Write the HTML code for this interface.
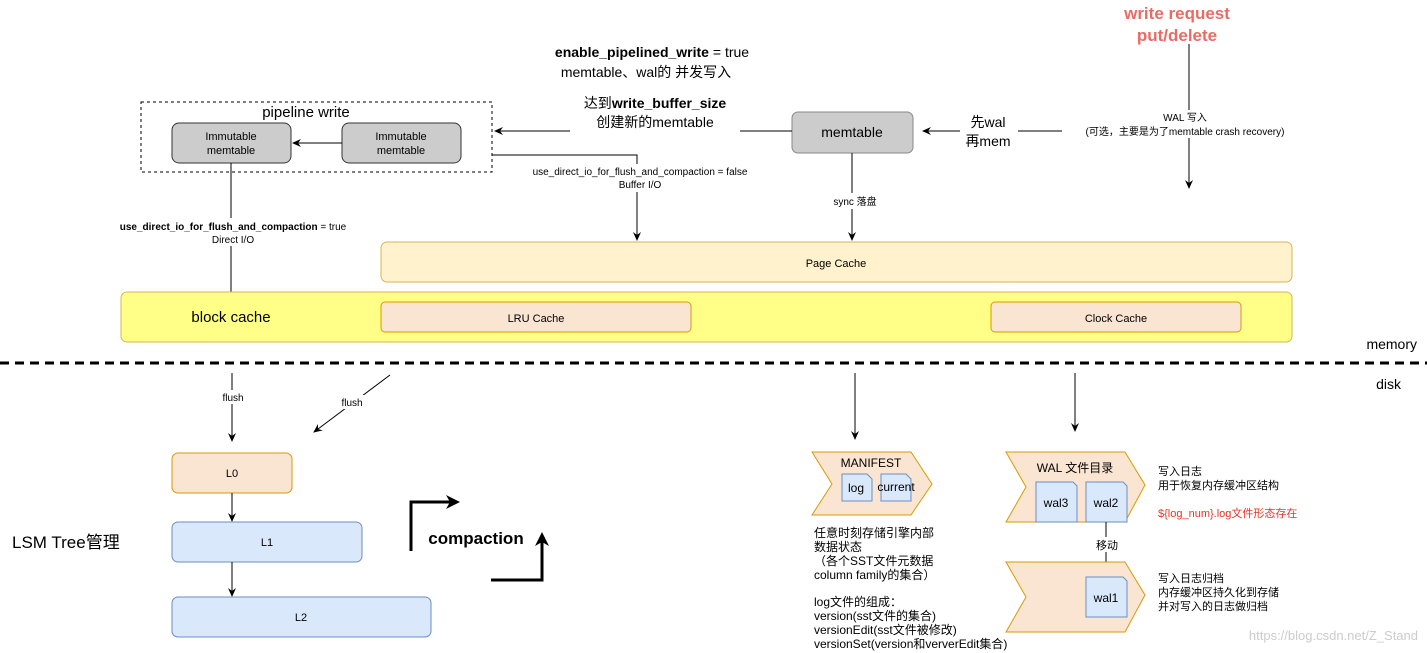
<!DOCTYPE html><html><head><meta charset="utf-8"><style>body{margin:0;background:#fff}svg{display:block}text{font-family:"Liberation Sans","Noto Sans CJK SC",sans-serif}</style></head><body>
<svg width="1427" height="653" viewBox="0 0 1427 653" xmlns="http://www.w3.org/2000/svg">
<defs><marker id="a" markerWidth="10" markerHeight="10" refX="8" refY="5" orient="auto" markerUnits="userSpaceOnUse"><path d="M0,1 L9,5 L0,9 L3,5z" fill="#000"/></marker>
<marker id="b" markerWidth="16" markerHeight="16" refX="10" refY="8" orient="auto" markerUnits="userSpaceOnUse"><path d="M0,1 L14,8 L0,15 L4,8z" fill="#000"/></marker></defs>
<g font-size="11" fill="#000">
<text x="1177" y="19" text-anchor="middle" font-size="17" font-weight="bold" fill="#ea6b66">write request</text>
<text x="1177" y="41" text-anchor="middle" font-size="17" font-weight="bold" fill="#ea6b66">put/delete</text>
<line x1="1189" y1="44" x2="1189" y2="188" stroke="#000" marker-end="url(#a)"/>
<rect x="1100" y="110" width="180" height="28" fill="#fff"/>
<text x="1185" y="121" text-anchor="middle" font-size="10">WAL 写入</text>
<text x="1185" y="135" text-anchor="middle" font-size="10">(可选，主要是为了memtable crash recovery)</text>
<line x1="1062" y1="131" x2="923" y2="131" stroke="#000" marker-end="url(#a)"/>
<rect x="960" y="112" width="58" height="38" fill="#fff"/>
<text x="988" y="127" text-anchor="middle" font-size="14">先wal</text>
<text x="988" y="146" text-anchor="middle" font-size="14">再mem</text>
<rect x="792" y="112" width="121" height="41" rx="6" fill="#ccc" stroke="#888"/>
<text x="852" y="137" text-anchor="middle" font-size="14">memtable</text>
<text x="652" y="57" text-anchor="middle" font-size="14"><tspan font-weight="bold">enable_pipelined_write</tspan> = true</text>
<text x="646" y="77" text-anchor="middle" font-size="14">memtable、wal的 并发写入</text>
<line x1="792" y1="131" x2="495" y2="131" stroke="#000" marker-end="url(#a)"/>
<rect x="570" y="94" width="170" height="38" fill="#fff"/>
<text x="655" y="108" text-anchor="middle" font-size="14">达到<tspan font-weight="bold">write_buffer_size</tspan></text>
<text x="655" y="127" text-anchor="middle" font-size="14">创建新的memtable</text>
<rect x="141" y="102" width="351" height="70" fill="none" stroke="#000" stroke-dasharray="3,3"/>
<text x="306" y="117" text-anchor="middle" font-size="15">pipeline write</text>
<rect x="172" y="123" width="119" height="40" rx="7" fill="#ccc" stroke="#333"/>
<text x="231" y="140" text-anchor="middle">Immutable</text><text x="231" y="154" text-anchor="middle">memtable</text>
<rect x="342" y="123" width="119" height="40" rx="7" fill="#ccc" stroke="#333"/>
<text x="401" y="140" text-anchor="middle">Immutable</text><text x="401" y="154" text-anchor="middle">memtable</text>
<line x1="342" y1="143" x2="293" y2="143" stroke="#000" marker-end="url(#a)"/>
<line x1="231" y1="163" x2="231" y2="292" stroke="#000"/>
<rect x="105" y="218" width="255" height="28" fill="#fff"/>
<text x="233" y="230" text-anchor="middle" font-size="10"><tspan font-weight="bold">use_direct_io_for_flush_and_compaction</tspan> = true</text>
<text x="233" y="243" text-anchor="middle" font-size="10">Direct I/O</text>
<polyline points="492,155 637,155 637,240" fill="none" stroke="#000" marker-end="url(#a)"/>
<rect x="520" y="164" width="240" height="28" fill="#fff"/>
<text x="640" y="175" text-anchor="middle" font-size="10">use_direct_io_for_flush_and_compaction = false</text>
<text x="640" y="188" text-anchor="middle" font-size="10">Buffer I/O</text>
<line x1="852" y1="153" x2="852" y2="240" stroke="#000" marker-end="url(#a)"/>
<rect x="825" y="193" width="60" height="16" fill="#fff"/>
<text x="855" y="205" text-anchor="middle" font-size="10">sync 落盘</text>
<rect x="121" y="292" width="1171" height="50" rx="6" fill="#ffff88" stroke="#d6b656"/>
<rect x="381" y="242" width="911" height="40" rx="6" fill="#fff2cc" stroke="#d6b656"/>
<text x="836" y="267" text-anchor="middle">Page Cache</text>
<text x="231" y="322" text-anchor="middle" font-size="15">block cache</text>
<rect x="381" y="302" width="310" height="30" rx="4" fill="#fae5d3" stroke="#d79b00"/>
<text x="536" y="322" text-anchor="middle">LRU Cache</text>
<rect x="991" y="302" width="250" height="30" rx="4" fill="#fae5d3" stroke="#d79b00"/>
<text x="1116" y="322" text-anchor="middle">Clock Cache</text>
<line x1="0" y1="363" x2="1427" y2="363" stroke="#000" stroke-width="3" stroke-dasharray="9,6"/>
<text x="1417" y="349" text-anchor="end" font-size="14">memory</text>
<text x="1401" y="389" text-anchor="end" font-size="14">disk</text>
<line x1="232" y1="373" x2="232" y2="441" stroke="#000" marker-end="url(#a)"/>
<rect x="215" y="390" width="35" height="14" fill="#fff"/><text x="233" y="401" text-anchor="middle" font-size="10">flush</text>
<line x1="390" y1="375" x2="314" y2="432" stroke="#000" marker-end="url(#a)"/>
<rect x="335" y="395" width="34" height="14" fill="#fff"/><text x="352" y="406" text-anchor="middle" font-size="10">flush</text>
<rect x="172" y="453" width="120" height="40" rx="6" fill="#fae5d3" stroke="#d79b00"/><text x="232" y="477" text-anchor="middle">L0</text>
<line x1="232" y1="493" x2="232" y2="521" stroke="#000" marker-end="url(#a)"/>
<rect x="172" y="522" width="190" height="40" rx="6" fill="#dae8fc" stroke="#6c8ebf"/><text x="267" y="546" text-anchor="middle">L1</text>
<line x1="232" y1="562" x2="232" y2="596" stroke="#000" marker-end="url(#a)"/>
<rect x="172" y="597" width="259" height="40" rx="6" fill="#dae8fc" stroke="#6c8ebf"/><text x="301" y="621" text-anchor="middle">L2</text>
<text x="12" y="548" font-size="17">LSM Tree管理</text>
<polyline points="411,551 411,502 456,502" fill="none" stroke="#000" stroke-width="3" marker-end="url(#b)"/>
<polyline points="491,580 542,580 542,536" fill="none" stroke="#000" stroke-width="3" marker-end="url(#b)"/>
<text x="476" y="544" text-anchor="middle" font-size="17" font-weight="bold">compaction</text>
<line x1="855" y1="373" x2="855" y2="439" stroke="#000" marker-end="url(#a)"/>
<line x1="1075" y1="373" x2="1075" y2="431" stroke="#000" marker-end="url(#a)"/>
<path d="M812,452 L911,452 L932,484 L911,515 L812,515 L832,484z" fill="#fae5d3" stroke="#d79b00"/>
<text x="871" y="467" text-anchor="middle" font-size="12">MANIFEST</text>
<path d="M842,474 h25 l5,5 v22 h-30z" fill="#dae8fc" stroke="#6c8ebf"/><text x="856" y="492" text-anchor="middle" font-size="12">log</text>
<path d="M881,474 h25 l5,5 v22 h-30z" fill="#dae8fc" stroke="#6c8ebf"/><text x="896" y="491" text-anchor="middle" font-size="12">current</text>
<g font-size="12"><text x="814" y="537">任意时刻存储引擎内部</text><text x="814" y="551">数据状态</text><text x="814" y="565">（各个SST文件元数据</text><text x="814" y="579">column family的集合）</text>
<text x="814" y="606">log文件的组成：</text><text x="814" y="620">version(sst文件的集合)</text><text x="814" y="634">versionEdit(sst文件被修改)</text><text x="814" y="648">versionSet(version和ververEdit集合)</text></g>
<path d="M1006,452 L1125,452 L1145,485 L1125,522 L1006,522 L1026,487z" fill="#fae5d3" stroke="#d79b00"/>
<text x="1075" y="472" text-anchor="middle" font-size="12">WAL 文件目录</text>
<path d="M1036,482 h37 l4,4 v36 h-41z" fill="#dae8fc" stroke="#6c8ebf"/><text x="1056" y="507" text-anchor="middle" font-size="12">wal3</text>
<path d="M1086,482 h37 l4,4 v36 h-41z" fill="#dae8fc" stroke="#6c8ebf"/><text x="1106" y="507" text-anchor="middle" font-size="12">wal2</text>
<line x1="1106" y1="522" x2="1106" y2="562" stroke="#000"/>
<rect x="1092" y="537" width="30" height="15" fill="#fff"/><text x="1107" y="549" text-anchor="middle" font-size="11">移动</text>
<path d="M1006,562 L1125,562 L1145,595 L1125,632 L1006,632 L1026,597z" fill="#fae5d3" stroke="#d79b00"/>
<path d="M1086,577 h37 l4,4 v36 h-41z" fill="#dae8fc" stroke="#6c8ebf"/><text x="1106" y="602" text-anchor="middle" font-size="12">wal1</text>
<g font-size="11"><text x="1158" y="475">写入日志</text><text x="1158" y="489">用于恢复内存缓冲区结构</text>
<text x="1158" y="517" fill="#ea3323">${log_num}.log文件形态存在</text>
<text x="1158" y="582">写入日志归档</text><text x="1158" y="596">内存缓冲区持久化到存储</text><text x="1158" y="610">并对写入的日志做归档</text></g>
<text x="1418" y="640" text-anchor="end" font-size="13" fill="#ccc">https://blog.csdn.net/Z_Stand</text>
</g></svg></body></html>
